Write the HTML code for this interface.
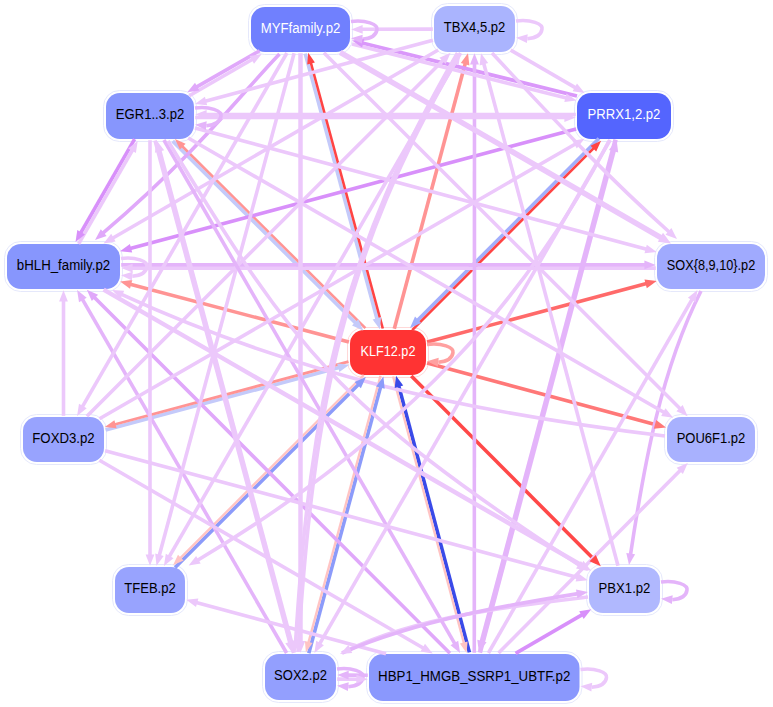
<!DOCTYPE html><html><head><meta charset="utf-8"><style>
html,body{margin:0;padding:0;background:#fff;}
svg{display:block}
text{font-family:"Liberation Sans",sans-serif;font-size:14px}
</style></head><body>
<svg width="773" height="707" viewBox="0 0 773 707">
<rect width="773" height="707" fill="#fff"/>
<rect x="248.5" y="4.5" width="104" height="50" rx="16" fill="none" stroke="#e2e5fb" stroke-width="0.9"/><rect x="251" y="7" width="99" height="45" rx="14" fill="#7080fe"/><text x="300.5" y="32.9" fill="#fff" text-anchor="middle" textLength="79.7" lengthAdjust="spacingAndGlyphs">MYFfamily.p2</text><rect x="431.5" y="3.5" width="86" height="51" rx="16" fill="none" stroke="#e2e5fb" stroke-width="0.9"/><rect x="434" y="6" width="81" height="46" rx="14" fill="#aab4fe"/><text x="474.5" y="32.4" fill="#000" text-anchor="middle" textLength="61.5" lengthAdjust="spacingAndGlyphs">TBX4,5.p2</text><rect x="103.5" y="90.5" width="93" height="51" rx="16" fill="none" stroke="#e2e5fb" stroke-width="0.9"/><rect x="106" y="93" width="88" height="46" rx="14" fill="#8796fd"/><text x="150.0" y="119.4" fill="#000" text-anchor="middle" textLength="68.4" lengthAdjust="spacingAndGlyphs">EGR1..3.p2</text><rect x="574.5" y="90.5" width="99" height="51" rx="16" fill="none" stroke="#e2e5fb" stroke-width="0.9"/><rect x="577" y="93" width="94" height="46" rx="14" fill="#5465fe"/><text x="624.0" y="119.4" fill="#fff" text-anchor="middle" textLength="72.8" lengthAdjust="spacingAndGlyphs">PRRX1,2.p2</text><rect x="4.5" y="241.5" width="118" height="50" rx="16" fill="none" stroke="#e2e5fb" stroke-width="0.9"/><rect x="7" y="244" width="113" height="45" rx="14" fill="#8796fd"/><text x="63.5" y="269.9" fill="#000" text-anchor="middle" textLength="93.4" lengthAdjust="spacingAndGlyphs">bHLH_family.p2</text><rect x="654.5" y="241.5" width="113" height="50" rx="16" fill="none" stroke="#e2e5fb" stroke-width="0.9"/><rect x="657" y="244" width="108" height="45" rx="14" fill="#a0aafe"/><text x="711.0" y="269.9" fill="#000" text-anchor="middle" textLength="88.5" lengthAdjust="spacingAndGlyphs">SOX{8,9,10}.p2</text><rect x="347.5" y="327.5" width="81" height="50" rx="16" fill="none" stroke="#ffd4d4" stroke-width="0.9"/><rect x="350" y="330" width="76" height="45" rx="14" fill="#ff3333"/><text x="388.0" y="355.9" fill="#fff" text-anchor="middle" textLength="54.9" lengthAdjust="spacingAndGlyphs">KLF12.p2</text><rect x="20.5" y="414.5" width="86" height="50" rx="16" fill="none" stroke="#e2e5fb" stroke-width="0.9"/><rect x="23" y="417" width="81" height="45" rx="14" fill="#98a3fe"/><text x="63.5" y="442.9" fill="#000" text-anchor="middle" textLength="62.4" lengthAdjust="spacingAndGlyphs">FOXD3.p2</text><rect x="664.5" y="414.5" width="93" height="50" rx="16" fill="none" stroke="#e2e5fb" stroke-width="0.9"/><rect x="667" y="417" width="88" height="45" rx="14" fill="#a8b1fe"/><text x="711.0" y="442.9" fill="#000" text-anchor="middle" textLength="68.7" lengthAdjust="spacingAndGlyphs">POU6F1.p2</text><rect x="112.5" y="564.5" width="75" height="51" rx="16" fill="none" stroke="#e2e5fb" stroke-width="0.9"/><rect x="115" y="567" width="70" height="46" rx="14" fill="#98a3fe"/><text x="150.0" y="593.4" fill="#000" text-anchor="middle" textLength="51.5" lengthAdjust="spacingAndGlyphs">TFEB.p2</text><rect x="586.5" y="564.5" width="76" height="51" rx="16" fill="none" stroke="#e2e5fb" stroke-width="0.9"/><rect x="589" y="567" width="71" height="46" rx="14" fill="#b0b8fe"/><text x="624.5" y="593.4" fill="#000" text-anchor="middle" textLength="51.8" lengthAdjust="spacingAndGlyphs">PBX1.p2</text><rect x="262.5" y="651.5" width="76" height="51" rx="16" fill="none" stroke="#e2e5fb" stroke-width="0.9"/><rect x="265" y="654" width="71" height="46" rx="14" fill="#939ffe"/><text x="300.5" y="680.4" fill="#000" text-anchor="middle" textLength="52.8" lengthAdjust="spacingAndGlyphs">SOX2.p2</text><rect x="366.5" y="651.5" width="215.5" height="52" rx="16" fill="none" stroke="#e2e5fb" stroke-width="0.9"/><rect x="369" y="654" width="210.5" height="47" rx="14" fill="#8a98fd"/><text x="474.2" y="680.9" fill="#000" text-anchor="middle" textLength="192.3" lengthAdjust="spacingAndGlyphs">HBP1_HMGB_SSRP1_UBTF.p2</text>
<line x1="305.2" y1="53.6" x2="377.1" y2="319.2" stroke="#c4cafa" stroke-width="3.6"/>
<line x1="382.8" y1="328.5" x2="310.8" y2="62.5" stroke="#ff4444" stroke-width="2.6"/>
<line x1="394.3" y1="328.8" x2="465.3" y2="63.2" stroke="#ff9494" stroke-width="3.6"/>
<line x1="172.7" y1="141.1" x2="355.8" y2="323.1" stroke="#c4cafa" stroke-width="3.6"/>
<line x1="365.4" y1="328.2" x2="182.0" y2="146.0" stroke="#ff9494" stroke-width="2.6"/>
<line x1="598.9" y1="138.6" x2="417.4" y2="320.5" stroke="#a2aefc" stroke-width="3.6"/>
<line x1="412.2" y1="330.1" x2="594.0" y2="147.9" stroke="#ff4444" stroke-width="2.6"/>
<line x1="348.9" y1="342.1" x2="130.2" y2="284.2" stroke="#ff9494" stroke-width="3.6"/>
<line x1="427.1" y1="342.1" x2="646.6" y2="283.6" stroke="#ff6a6a" stroke-width="3.6"/>
<line x1="427.1" y1="363.0" x2="656.0" y2="424.7" stroke="#ff7878" stroke-width="3.6"/>
<line x1="105.6" y1="430.1" x2="339.2" y2="367.4" stroke="#c4cafa" stroke-width="3.6"/>
<line x1="348.5" y1="361.7" x2="114.5" y2="424.5" stroke="#ff9494" stroke-width="2.8"/>
<line x1="175.1" y1="567.5" x2="358.5" y2="384.5" stroke="#8c9bfa" stroke-width="3.6"/>
<line x1="363.8" y1="375.0" x2="180.1" y2="558.3" stroke="#ffc4c4" stroke-width="2.4"/>
<line x1="308.8" y1="653.3" x2="380.6" y2="386.7" stroke="#8c9bfa" stroke-width="3.6"/>
<line x1="380.5" y1="375.8" x2="308.4" y2="642.9" stroke="#ffc4c4" stroke-width="2.4"/>
<line x1="469.4" y1="652.4" x2="398.7" y2="385.8" stroke="#3a4ae8" stroke-width="3.6"/>
<line x1="393.1" y1="376.5" x2="464.0" y2="643.5" stroke="#ffc4c4" stroke-width="2.4"/>
<line x1="411.3" y1="375.9" x2="593.4" y2="558.8" stroke="#ff4848" stroke-width="3.6"/>
<line x1="577.0" y1="96.0" x2="362.2" y2="43.0" stroke="#da98fa" stroke-width="3.8"/>
<line x1="259.7" y1="50.7" x2="196.3" y2="87.1" stroke="#e0a8fa" stroke-width="3.6"/>
<path d="M279.5,54.0 C240.0,95.0 200.0,150.0 102.9,233.2" fill="none" stroke="#e0a8fa" stroke-width="3.6"/>
<line x1="134.6" y1="139.1" x2="80.7" y2="233.0" stroke="#d890fa" stroke-width="3.6"/>
<line x1="576.1" y1="128.9" x2="130.1" y2="248.6" stroke="#d890fa" stroke-width="3.6"/>
<line x1="515.6" y1="653.4" x2="582.3" y2="614.6" stroke="#d890fa" stroke-width="3.6"/>
<line x1="449.9" y1="653.2" x2="94.2" y2="297.2" stroke="#e0a8fa" stroke-width="3.6"/>
<line x1="655.8" y1="268.1" x2="131.6" y2="268.1" stroke="#ecc8fb" stroke-width="3.6"/>
<line x1="121.2" y1="264.9" x2="645.4" y2="264.9" stroke="#e4b4fa" stroke-width="3.6"/>
<line x1="474.3" y1="652.8" x2="474.5" y2="63.6" stroke="#e4b4fa" stroke-width="3.6"/>
<line x1="615.6" y1="139.6" x2="481.7" y2="641.9" stroke="#e4b4fa" stroke-width="4.5"/>
<line x1="479.9" y1="652.6" x2="613.8" y2="150.3" stroke="#e4b4fa" stroke-width="4.5"/>
<path d="M701.0,291.0 C661.0,370.0 644.0,465.0 630.5,554.7" fill="none" stroke="#e4b4fa" stroke-width="3.6"/>
<line x1="286.6" y1="653.0" x2="82.3" y2="299.1" stroke="#e4b4fa" stroke-width="3.6"/>
<line x1="432.8" y1="29.1" x2="361.6" y2="29.3" stroke="#ecc8fb" stroke-width="3.6"/>
<line x1="352.0" y1="44.0" x2="566.4" y2="98.0" stroke="#ecc8fb" stroke-width="3.6"/>
<line x1="189.3" y1="95.7" x2="252.6" y2="59.3" stroke="#ecc8fb" stroke-width="3.6"/>
<line x1="286.9" y1="53.0" x2="82.3" y2="406.9" stroke="#ecc8fb" stroke-width="3.6"/>
<line x1="294.1" y1="53.2" x2="159.2" y2="555.8" stroke="#ecc8fb" stroke-width="3.6"/>
<line x1="300.5" y1="53.2" x2="300.5" y2="642.0" stroke="#ecc8fb" stroke-width="4.5"/>
<line x1="323.9" y1="52.8" x2="680.2" y2="408.8" stroke="#ecc8fb" stroke-width="3.6"/>
<line x1="340.2" y1="52.4" x2="661.3" y2="237.8" stroke="#ecc8fb" stroke-width="5.5"/>
<line x1="432.9" y1="40.2" x2="205.1" y2="101.2" stroke="#ecc8fb" stroke-width="3.6"/>
<line x1="438.2" y1="50.0" x2="112.5" y2="238.2" stroke="#ecc8fb" stroke-width="3.6"/>
<line x1="86.9" y1="416.2" x2="443.2" y2="60.2" stroke="#ecc8fb" stroke-width="3.6"/>
<line x1="460.6" y1="53.0" x2="169.1" y2="556.9" stroke="#ecc8fb" stroke-width="3.6"/>
<line x1="618.0" y1="565.8" x2="483.7" y2="63.2" stroke="#ecc8fb" stroke-width="3.6"/>
<path d="M492.0,53.0 C550.0,115.0 600.0,170.0 669.2,232.0" fill="none" stroke="#ecc8fb" stroke-width="3.6"/>
<line x1="510.7" y1="50.1" x2="575.7" y2="87.9" stroke="#ecc8fb" stroke-width="3.6"/>
<line x1="575.8" y1="114.5" x2="205.6" y2="114.5" stroke="#ecc8fb" stroke-width="3.6"/>
<line x1="195.2" y1="117.5" x2="565.4" y2="117.5" stroke="#ecc8fb" stroke-width="3.6"/>
<line x1="195.0" y1="128.1" x2="646.7" y2="249.2" stroke="#ecc8fb" stroke-width="3.6"/>
<line x1="188.2" y1="138.0" x2="664.2" y2="412.5" stroke="#ecc8fb" stroke-width="3.6"/>
<line x1="78.6" y1="243.9" x2="132.5" y2="150.0" stroke="#ecc8fb" stroke-width="3.6"/>
<line x1="150.0" y1="140.2" x2="150.0" y2="555.4" stroke="#ecc8fb" stroke-width="3.6"/>
<line x1="294.0" y1="652.8" x2="159.3" y2="150.6" stroke="#ecc8fb" stroke-width="4.5"/>
<line x1="155.0" y1="140.5" x2="289.9" y2="643.1" stroke="#ecc8fb" stroke-width="3.6"/>
<line x1="163.9" y1="140.0" x2="454.9" y2="643.9" stroke="#e4b4fa" stroke-width="3.6"/>
<path d="M168.0,141.0 C295.0,350.0 335.0,405.0 579.3,565.3" fill="none" stroke="#ecc8fb" stroke-width="3.6"/>
<line x1="610.1" y1="140.0" x2="319.6" y2="643.9" stroke="#ecc8fb" stroke-width="3.6"/>
<line x1="99.5" y1="418.7" x2="575.4" y2="144.0" stroke="#ecc8fb" stroke-width="3.6"/>
<line x1="63.5" y1="415.8" x2="63.5" y2="300.6" stroke="#ecc8fb" stroke-width="3.6"/>
<line x1="103.6" y1="289.6" x2="581.9" y2="565.4" stroke="#ecc8fb" stroke-width="4.5"/>
<path d="M665.0,436.0 C465.0,412.0 292.0,373.0 121.5,294.4" fill="none" stroke="#ecc8fb" stroke-width="3.6"/>
<line x1="488.4" y1="653.0" x2="692.2" y2="299.1" stroke="#ecc8fb" stroke-width="3.6"/>
<path d="M609.0,141.0 C530.0,295.0 412.0,432.0 197.6,560.2" fill="none" stroke="#ecc8fb" stroke-width="3.6"/>
<line x1="105.1" y1="450.7" x2="577.8" y2="577.5" stroke="#ecc8fb" stroke-width="3.6"/>
<line x1="99.4" y1="460.3" x2="423.6" y2="648.2" stroke="#ecc8fb" stroke-width="3.6"/>
<line x1="498.5" y1="653.1" x2="680.4" y2="470.3" stroke="#ecc8fb" stroke-width="3.6"/>
<line x1="386.0" y1="653.7" x2="196.2" y2="602.5" stroke="#ecc8fb" stroke-width="3.6"/>
<path d="M588.0,597.0 C520.0,605.0 420.0,616.0 349.4,649.5" fill="none" stroke="#ecc8fb" stroke-width="3.6"/>
<path d="M342.0,653.0 C420.0,619.0 520.0,603.0 577.7,593.7" fill="none" stroke="#e4b4fa" stroke-width="3.6"/>
<line x1="337.2" y1="679.1" x2="357.4" y2="679.2" stroke="#ecc8fb" stroke-width="3.6"/>
<line x1="367.8" y1="675.2" x2="347.6" y2="675.1" stroke="#e4b4fa" stroke-width="3.6"/>
<path d="M457.5,53.0 C341.5,253.0 310.5,402.0 295.6,641.6" fill="none" stroke="#ecc8fb" stroke-width="3.6"/>
<path d="M298.0,652.0 C313.5,402.0 344.5,253.0 455.3,62.0" fill="none" stroke="#ecc8fb" stroke-width="3.6"/>
<path d="M351,21.5 C366,19.5 378,24.5 377,29.5 C376,37.3 368,38.8 362.3,39.2" fill="none" stroke="#e4b4fa" stroke-width="3.6"/>
<path d="M516,21.0 C531,19.0 543,24.0 542,29.0 C541,36.8 533,38.3 527.3,38.7" fill="none" stroke="#ecc8fb" stroke-width="3.6"/>
<path d="M195,108.0 C210,106.0 222,111.0 221,116.0 C220,123.8 212,125.3 206.3,125.7" fill="none" stroke="#e4b4fa" stroke-width="3.6"/>
<path d="M121,258.5 C136,256.5 148,261.5 147,266.5 C146,274.3 138,275.8 132.3,276.2" fill="none" stroke="#ecc8fb" stroke-width="3.6"/>
<path d="M427,344.5 C442,342.5 454,347.5 453,352.5 C452,360.3 444,361.8 438.3,362.2" fill="none" stroke="#ffa0a0" stroke-width="3.6"/>
<path d="M661,582.0 C676,580.0 688,585.0 687,590.0 C686,597.8 678,599.3 672.3,599.7" fill="none" stroke="#e4b4fa" stroke-width="3.6"/>
<path d="M337,669.0 C352,667.0 364,672.0 363,677.0 C362,684.8 354,686.3 348.3,686.7" fill="none" stroke="#e4b4fa" stroke-width="3.6"/>
<path d="M580.5,669.5 C595.5,667.5 607.5,672.5 606.5,677.5 C605.5,685.3 597.5,686.8 591.8,687.2" fill="none" stroke="#ecc8fb" stroke-width="3.6"/>
<polygon points="379.9,329.3 372.6,319.4 381.1,317.1" fill="#c4cafa"/>
<polygon points="308.2,52.8 314.9,62.4 307.2,64.5" fill="#ff4444"/>
<polygon points="468.0,53.2 469.4,65.4 460.8,63.1" fill="#ff9494"/>
<polygon points="363.2,330.4 352.0,325.5 358.3,319.2" fill="#c4cafa"/>
<polygon points="174.9,138.9 185.6,143.8 179.9,149.6" fill="#ff9494"/>
<polygon points="410.0,327.9 415.0,316.6 421.2,322.9" fill="#a2aefc"/>
<polygon points="601.1,140.8 596.2,151.4 590.5,145.7" fill="#ff4444"/>
<polygon points="120.1,281.5 132.3,280.1 130.0,288.7" fill="#ff9494"/>
<polygon points="656.7,281.0 646.8,288.2 644.5,279.6" fill="#ff6a6a"/>
<polygon points="666.0,427.4 653.8,428.7 656.2,420.1" fill="#ff7878"/>
<polygon points="349.3,364.7 339.4,372.0 337.1,363.4" fill="#c4cafa"/>
<polygon points="104.8,427.1 114.4,420.2 116.6,428.2" fill="#ff9494"/>
<polygon points="365.9,377.1 360.9,388.3 354.6,382.1" fill="#8c9bfa"/>
<polygon points="173.0,565.3 178.0,554.8 183.6,560.4" fill="#ffc4c4"/>
<polygon points="383.4,376.6 384.7,388.8 376.1,386.5" fill="#8c9bfa"/>
<polygon points="305.9,652.5 304.9,640.9 312.5,643.0" fill="#ffc4c4"/>
<polygon points="396.0,375.7 403.2,385.6 394.7,387.9" fill="#3a4ae8"/>
<polygon points="466.5,653.1 459.9,643.6 467.6,641.5" fill="#ffc4c4"/>
<polygon points="600.8,566.2 589.5,561.2 595.8,554.9" fill="#ff4848"/>
<polygon points="352.0,40.5 364.3,38.9 362.1,47.6" fill="#da98fa"/>
<polygon points="187.3,92.3 195.0,82.7 199.4,90.4" fill="#e0a8fa"/>
<polygon points="95.0,240.0 100.8,229.2 106.6,235.9" fill="#e0a8fa"/>
<polygon points="75.5,242.1 77.3,229.9 85.0,234.4" fill="#d890fa"/>
<polygon points="120.0,251.3 129.9,244.1 132.2,252.6" fill="#d890fa"/>
<polygon points="591.3,609.3 583.7,618.9 579.2,611.2" fill="#d890fa"/>
<polygon points="86.8,289.8 98.1,294.8 91.8,301.1" fill="#e0a8fa"/>
<polygon points="121.2,268.1 132.6,263.7 132.6,272.5" fill="#ecc8fb"/>
<polygon points="655.8,264.9 644.4,269.3 644.4,260.5" fill="#e4b4fa"/>
<polygon points="474.5,53.2 478.9,64.6 470.0,64.6" fill="#e4b4fa"/>
<polygon points="478.9,652.3 477.3,639.7 486.6,642.2" fill="#e4b4fa"/>
<polygon points="616.6,139.9 618.2,152.5 608.9,150.1" fill="#e4b4fa"/>
<polygon points="629.0,565.0 626.3,553.0 635.1,554.3" fill="#e4b4fa"/>
<polygon points="77.1,290.0 86.7,297.7 79.0,302.2" fill="#e4b4fa"/>
<polygon points="351.2,29.4 362.6,24.9 362.7,33.8" fill="#ecc8fb"/>
<polygon points="576.5,100.5 564.3,102.0 566.5,93.4" fill="#ecc8fb"/>
<polygon points="261.7,54.1 254.0,63.7 249.5,56.0" fill="#ecc8fb"/>
<polygon points="77.1,416.0 79.0,403.8 86.7,408.3" fill="#ecc8fb"/>
<polygon points="156.5,565.8 155.2,553.6 163.7,555.9" fill="#ecc8fb"/>
<polygon points="300.5,652.8 295.7,641.0 305.3,641.0" fill="#ecc8fb"/>
<polygon points="687.6,416.2 676.4,411.2 682.7,404.9" fill="#ecc8fb"/>
<polygon points="671.0,243.4 657.8,241.8 663.0,232.8" fill="#ecc8fb"/>
<polygon points="195.0,103.9 204.9,96.7 207.2,105.3" fill="#ecc8fb"/>
<polygon points="103.5,243.4 111.2,233.8 115.6,241.5" fill="#ecc8fb"/>
<polygon points="450.6,52.8 445.7,64.1 439.4,57.8" fill="#ecc8fb"/>
<polygon points="163.9,566.0 165.8,553.8 173.5,558.3" fill="#ecc8fb"/>
<polygon points="481.0,53.2 488.2,63.1 479.6,65.4" fill="#ecc8fb"/>
<polygon points="677.0,239.0 665.5,234.7 671.4,228.1" fill="#ecc8fb"/>
<polygon points="584.7,93.1 572.6,91.2 577.0,83.5" fill="#ecc8fb"/>
<polygon points="195.2,114.5 206.6,110.1 206.6,118.9" fill="#ecc8fb"/>
<polygon points="575.8,117.5 564.4,121.9 564.4,113.1" fill="#ecc8fb"/>
<polygon points="656.7,251.9 644.5,253.3 646.8,244.7" fill="#ecc8fb"/>
<polygon points="673.2,417.7 661.1,415.9 665.5,408.2" fill="#ecc8fb"/>
<polygon points="137.7,140.9 135.9,153.1 128.2,148.6" fill="#ecc8fb"/>
<polygon points="150.0,565.8 145.6,554.4 154.4,554.4" fill="#ecc8fb"/>
<polygon points="156.5,140.2 164.2,150.3 154.9,152.8" fill="#ecc8fb"/>
<polygon points="292.6,653.2 285.3,643.3 293.9,641.0" fill="#ecc8fb"/>
<polygon points="460.1,653.0 450.5,645.3 458.2,640.8" fill="#e4b4fa"/>
<polygon points="588.0,571.0 576.0,568.4 580.9,561.0" fill="#ecc8fb"/>
<polygon points="314.4,653.0 316.2,640.8 323.9,645.3" fill="#ecc8fb"/>
<polygon points="584.5,138.8 576.8,148.4 572.4,140.7" fill="#ecc8fb"/>
<polygon points="63.5,290.2 67.9,301.6 59.1,301.6" fill="#ecc8fb"/>
<polygon points="591.2,570.8 578.6,569.1 583.4,560.8" fill="#ecc8fb"/>
<polygon points="112.0,290.0 124.2,290.8 120.5,298.8" fill="#ecc8fb"/>
<polygon points="697.4,290.0 695.6,302.2 687.9,297.7" fill="#ecc8fb"/>
<polygon points="188.6,565.6 196.1,555.9 200.7,563.5" fill="#ecc8fb"/>
<polygon points="587.8,580.2 575.6,581.5 577.9,572.9" fill="#ecc8fb"/>
<polygon points="432.7,653.4 420.5,651.5 425.0,643.8" fill="#ecc8fb"/>
<polygon points="687.8,462.9 682.9,474.1 676.6,467.8" fill="#ecc8fb"/>
<polygon points="186.2,599.8 198.4,598.5 196.0,607.0" fill="#ecc8fb"/>
<polygon points="340.0,654.0 348.4,645.1 352.2,653.1" fill="#ecc8fb"/>
<polygon points="588.0,592.0 577.4,598.2 576.0,589.4" fill="#e4b4fa"/>
<polygon points="367.8,679.2 356.3,683.6 356.4,674.7" fill="#ecc8fb"/>
<polygon points="337.2,675.1 348.7,670.7 348.6,679.6" fill="#e4b4fa"/>
<polygon points="295.0,652.0 291.3,640.3 300.1,640.9" fill="#ecc8fb"/>
<polygon points="460.5,53.0 458.6,65.1 450.9,60.7" fill="#ecc8fb"/>
<polygon points="351.0,38.3 362.7,34.8 361.9,43.6" fill="#e4b4fa"/>
<polygon points="516.0,37.8 527.7,34.3 526.9,43.1" fill="#ecc8fb"/>
<polygon points="195.0,124.8 206.7,121.3 205.9,130.1" fill="#e4b4fa"/>
<polygon points="121.0,275.3 132.7,271.8 131.9,280.6" fill="#ecc8fb"/>
<polygon points="427.0,361.3 438.7,357.8 437.9,366.6" fill="#ffa0a0"/>
<polygon points="661.0,598.8 672.7,595.3 671.9,604.1" fill="#e4b4fa"/>
<polygon points="337.0,685.8 348.7,682.3 347.9,691.1" fill="#e4b4fa"/>
<polygon points="580.5,686.3 592.2,682.8 591.4,691.6" fill="#ecc8fb"/>
</svg></body></html>
